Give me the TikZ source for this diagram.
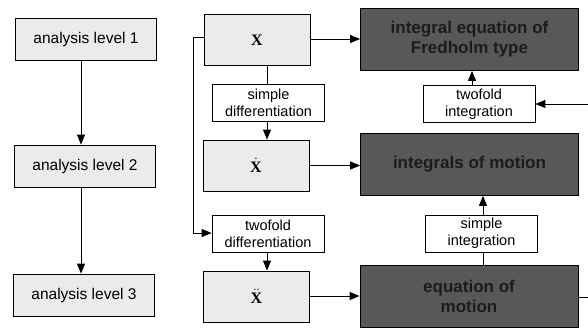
\documentclass[tikz,border=0pt]{standalone}
\usepackage[no-math]{fontspec}
\setmainfont{Liberation Sans}
\newfontfamily\xser{Liberation Serif}
\newcommand{\Xb}{\hbox{\xser\bfseries X}}
\usetikzlibrary{arrows.meta}
\definecolor{lightbox}{HTML}{EBEBEB}
\definecolor{darkbox}{HTML}{585858}
\definecolor{darktext}{HTML}{1C1C1C}
\tikzset{
  lvl/.style={draw, line width=0.8pt, fill=lightbox, minimum width=141pt, minimum height=42pt, inner sep=0pt, font=\fontsize{15.5}{18}\selectfont},
  xbox/.style={draw, line width=0.8pt, fill=lightbox, minimum width=106pt, minimum height=51pt, inner sep=0pt, font=\fontsize{16}{19}\selectfont},
  dbox/.style={draw, line width=0.8pt, fill=darkbox, text=darktext, minimum width=218pt, minimum height=62pt, inner sep=0pt, align=center, font=\bfseries\fontsize{17}{20}\selectfont},
  opbox/.style={draw, line width=0.8pt, fill=white, minimum width=112pt, minimum height=37pt, inner sep=0pt, align=center, font=\fontsize{14.5}{17.3}\selectfont},
  conn/.style={line width=1pt},
  arr/.style={conn, -{Triangle[length=10pt,width=8pt]}}
}
\begin{document}
\begin{tikzpicture}[x=1pt,y=-1pt]
\useasboundingbox (0,0) rectangle (588,327);
% left column
\node[lvl] (l1) at (86,39) {analysis level 1};
\node[lvl] (l2) at (85,166) {analysis level 2};
\node[lvl] (l3) at (84,295) {analysis level 3};
\draw[arr] (l1.south -| 81,0) -- (l2.north -| 81,0);
\draw[arr] (l2.south -| 81,0) -- (l3.north -| 81,0);
% X column
\node[xbox] (x0) at (257,40) {\Xb};
\node[xbox] (x1) at (256,165.5) {$\dot{\Xb}$};
\node[xbox] (x2) at (256.5,296.5) {$\ddot{\Xb}$};
\node[opbox] (sd) at (268.5,103) {simple\\differentiation};
\node[opbox] (td) at (268,233.5) {twofold\\differentiation};
% dark boxes
\node[dbox] (fr) at (469.5,39.5) {integral equation of\\Fredholm type};
\node[dbox] (im) at (469.5,164.5) {integrals of motion};
\node[dbox] (em) at (469,296) {equation of\\motion};
\node[opbox] (ti) at (479,104) {twofold\\integration};
\node[opbox] (si) at (481.5,233.5) {simple\\integration};
% connectors
\draw[conn] (x0.south -| 267,0) -- (sd.north -| 267,0);
\draw[arr] (sd.south -| 267,0) -- (x1.north -| 267,0);
\draw[arr] (td.south -| 267,0) -- (x2.north -| 267,0);
\coordinate (bt) at (193,37);
\coordinate (bb) at (193,233);
\draw[conn] (x0.west |- bt) -- (bt) -- (bb);
\draw[arr] (bb) -- (td.west |- bb);
\draw[arr] (x0.east |- 0,39) -- (fr.west |- 0,39);
\draw[arr] (x1.east |- 0,165.5) -- (im.west |- 0,165.5);
\draw[arr] (x2.east |- 0,296) -- (em.west |- 0,296);
\draw[arr] (ti.north -| 472,0) -- (fr.south -| 472,0);
\coordinate (rin) at (588,104);
\draw[arr] (rin) -- (ti.east |- rin);
\draw[conn] (em.north -| 483,0) -- (si.south -| 483,0);
\draw[arr] (si.north -| 483,0) -- (im.south -| 483,0);
\coordinate (rout) at (588,297);
\draw[conn] (em.east |- rout) -- (rout);
\end{tikzpicture}
\end{document}
